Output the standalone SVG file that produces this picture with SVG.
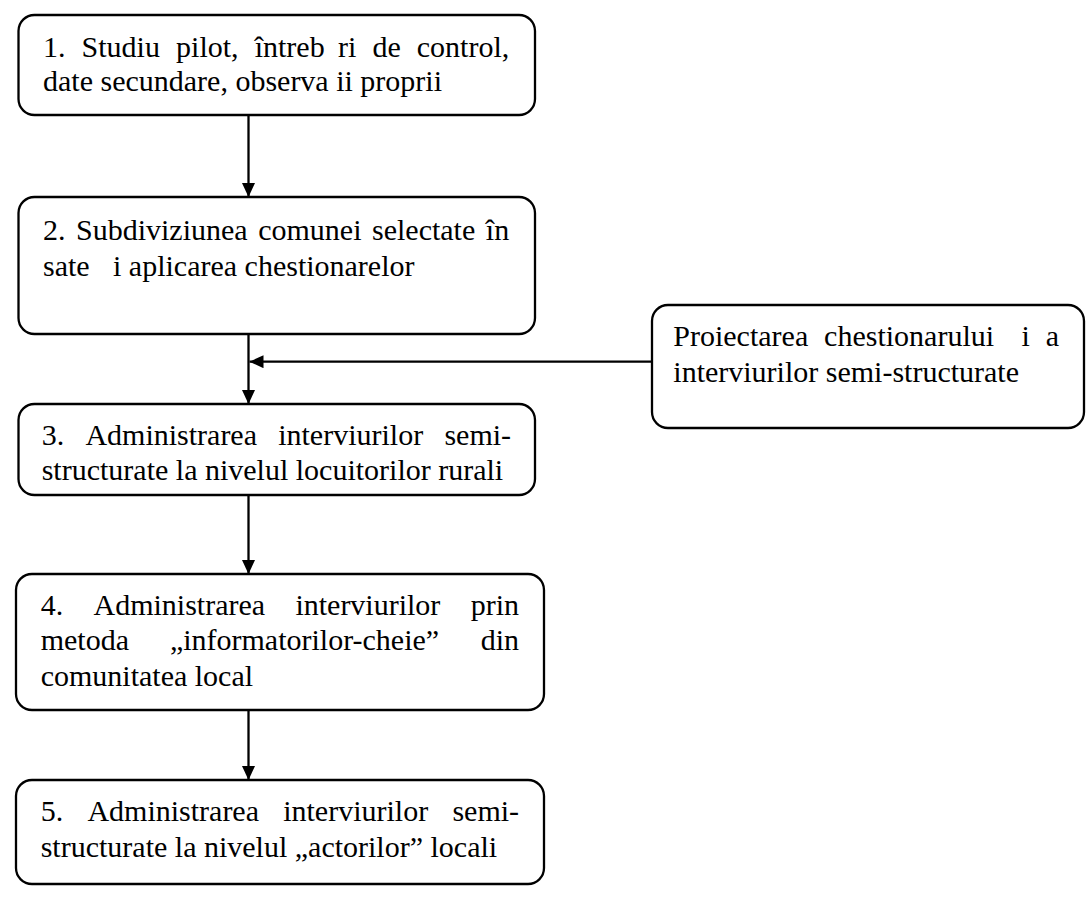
<svg xmlns="http://www.w3.org/2000/svg" width="1086" height="897" viewBox="0 0 1086 897">
<style>
.box{fill:#fff;stroke:#000;stroke-width:2.3}
.t{font-family:"Liberation Serif","Times New Roman",Times,serif;font-size:30px;fill:#000}
.c{stroke:#000;stroke-width:2.3;fill:none}
</style>
<defs>
<marker id="ah" markerUnits="userSpaceOnUse" markerWidth="14" markerHeight="13" refX="14" refY="6.5" orient="auto">
<path d="M0,0 L14,6.5 L0,13 z" fill="#000"/>
</marker>
</defs>
<rect width="1086" height="897" fill="#fff"/>
<g id="connectors">
<line class="c" x1="248.5" y1="115" x2="248.5" y2="197" marker-end="url(#ah)"/>
<line class="c" x1="248.5" y1="334" x2="248.5" y2="404" marker-end="url(#ah)"/>
<line class="c" x1="652" y1="361.7" x2="249.5" y2="361.7" marker-end="url(#ah)"/>
<line class="c" x1="248.5" y1="495" x2="248.5" y2="574" marker-end="url(#ah)"/>
<line class="c" x1="248.5" y1="710" x2="248.5" y2="780" marker-end="url(#ah)"/>
</g>
<g id="n1">
<rect class="box" x="18.5" y="15" width="516.5" height="100" rx="16"/>
<text class="t" y="57"><tspan x="43">1.</tspan><tspan x="81.6">Studiu</tspan><tspan x="176.1">pilot,</tspan><tspan x="254.7">întreb</tspan><tspan x="338">ri</tspan><tspan x="372.4">de</tspan><tspan x="416.8">control,</tspan></text>
<text class="t" x="43" y="91">date secundare, observa ii proprii</text>
</g>
<g id="n2">
<rect class="box" x="18.5" y="197" width="516.5" height="137" rx="16"/>
<text class="t" y="240"><tspan x="43">2.</tspan><tspan x="76">Subdiviziunea</tspan><tspan x="258.2">comunei</tspan><tspan x="372">selectate</tspan><tspan x="485.8">în</tspan></text>
<text class="t" y="276"><tspan x="43">sate</tspan><tspan x="113">i aplicarea chestionarelor</tspan></text>
</g>
<g id="n3">
<rect class="box" x="18.5" y="404" width="516.5" height="91" rx="16"/>
<text class="t" y="445"><tspan x="41.7">3.</tspan><tspan x="85.4">Administrarea</tspan><tspan x="278.2">interviurilor</tspan><tspan x="444.4">semi-</tspan></text>
<text class="t" x="41.7" y="480">structurate la nivelul locuitorilor rurali</text>
</g>
<g id="n4">
<rect class="box" x="16" y="574" width="528" height="136" rx="16"/>
<text class="t" y="615.3"><tspan x="40.7">4.</tspan><tspan x="93.5">Administrarea</tspan><tspan x="295.4">interviurilor</tspan><tspan x="470.7">prin</tspan></text>
<text class="t" y="650.3"><tspan x="40.7">metoda</tspan><tspan x="169.9">„informatorilor-cheie”</tspan><tspan x="480.7">din</tspan></text>
<text class="t" x="40.7" y="686.3">comunitatea local</text>
</g>
<g id="n5">
<rect class="box" x="16" y="780" width="528" height="104" rx="16"/>
<text class="t" y="821"><tspan x="40.7">5.</tspan><tspan x="87.4">Administrarea</tspan><tspan x="283.2">interviurilor</tspan><tspan x="452.4">semi-</tspan></text>
<text class="t" x="40.7" y="857">structurate la nivelul „actorilor” locali</text>
</g>
<g id="side">
<rect class="box" x="652" y="305" width="432" height="123" rx="16"/>
<text class="t" y="346"><tspan x="673.3">Proiectarea</tspan><tspan x="824.1">chestionarului</tspan><tspan x="1021.6">i</tspan><tspan x="1045.7">a</tspan></text>
<text class="t" x="673.3" y="381.7">interviurilor semi-structurate</text>
</g>
</svg>
